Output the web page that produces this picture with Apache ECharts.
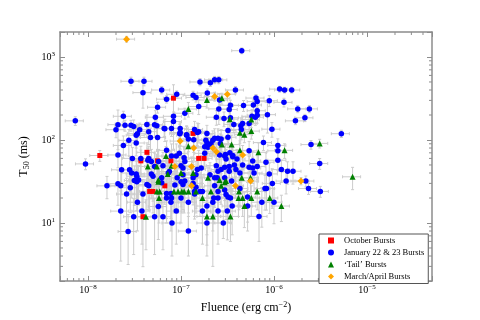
<!DOCTYPE html>
<html>
<head>
<meta charset="utf-8">
<script src="https://cdn.jsdelivr.net/npm/echarts@6/dist/echarts.min.js"></script>
<style>
    html, body { margin: 0; background: #fff; }
    #chart { width: 480px; height: 320px; }
</style>
</head>
<body>
<div id="chart"></div>
<script>
// each point: [fluence (erg cm^-2), T50 (ms), relative T50 error]
var octoberBursts = [
    [1.34e-8, 65, 0.15], [8.3e-8, 319, 0.45], [4.3e-8, 71, 0.3], [3.7e-8, 56, 0.35],
    [6.7e-8, 28, 0.4], [4.6e-8, 24, 0.4], [5.0e-8, 24, 0.45], [3.9e-8, 11.9, 0.75],
    [1.35e-7, 120, 0.2], [1.55e-7, 60, 0.25], [1.77e-7, 60, 0.25], [5.6e-8, 56, 0.3],
    [7.8e-8, 56, 0.3]
];

var januaryBursts = [
    [2.9e-8, 510, 0.12], [4e-8, 510, 0.12], [3.9e-8, 372, 0.35], [6.2e-8, 400, 0.1], [9e-8, 355, 0.1],
    [7e-8, 310, 0.1], [5.6e-8, 248, 0.15], [1.1e-7, 210, 0.15], [7.3e-9, 170, 0.12], [2.4e-8, 193, 0.15],
    [2.1e-8, 153, 0.5], [2.5e-8, 150, 0.15], [2.9e-8, 150, 0.15], [3.1e-8, 145, 0.2], [2e-8, 133, 0.2],
    [3.6e-8, 133, 0.2], [3.4e-8, 119, 0.2], [3.3e-8, 114, 0.3], [5.3e-8, 188, 0.2], [5.2e-8, 153, 0.3],
    [6.6e-8, 138, 0.2], [7.9e-8, 138, 0.2], [8.3e-8, 167, 0.3], [8.3e-8, 193, 0.6], [9.8e-8, 138, 0.2],
    [4.5e-8, 126, 0.3], [4.7e-8, 107, 0.3], [5.6e-8, 107, 0.3], [9.8e-8, 123, 0.3], [1.15e-7, 114, 0.3],
    [2.75e-8, 99, 0.35], [2.4e-8, 86, 0.3], [3.3e-8, 92, 0.3], [2.1e-8, 66, 0.3], [7e-8, 75, 0.3],
    [9.4e-9, 51.5, 0.15], [3e-8, 60, 0.35], [3.7e-8, 60, 0.4], [4.4e-8, 57, 0.4], [5.75e-8, 55, 0.4],
    [7.9e-8, 64, 0.4], [8.9e-8, 64, 0.4], [9.6e-8, 69, 0.35], [4.5e-8, 60, 0.4], [5.2e-8, 48, 0.45],
    [6.4e-8, 49, 0.45], [1e-7, 49, 0.4], [2.3e-8, 43.7, 0.5], [2.8e-8, 43.7, 0.45], [2.95e-8, 40, 0.5],
    [3.3e-8, 39, 0.5], [4.8e-8, 39, 0.5], [5e-8, 36.6, 0.5], [7.5e-8, 41.7, 0.45], [9.1e-8, 35, 0.5],
    [6.2e-8, 35, 0.5], [3.15e-8, 32.5, 0.5], [3.5e-8, 33, 0.5], [3.35e-8, 31.3, 0.55], [6.2e-8, 30.5, 0.5],
    [1e-7, 31.3, 0.5], [1.05e-7, 29, 0.5], [2.1e-8, 29.7, 0.45], [2.25e-8, 28, 0.5], [1.6e-8, 28, 0.3],
    [4.5e-8, 28, 0.5], [8.6e-8, 28.7, 0.5], [2.85e-8, 26.6, 0.5], [2.6e-8, 22.3, 0.55], [3.9e-8, 22.3, 0.5],
    [7e-8, 22.6, 0.5], [7.8e-8, 22.6, 0.5], [1e-7, 20, 0.5], [7.9e-8, 20, 0.5], [7e-8, 20, 0.5],
    [3.4e-8, 17.8, 0.55], [5.7e-8, 15.8, 0.6], [7.8e-8, 17.8, 0.55], [2.25e-8, 13.9, 0.75], [3.8e-8, 13.9, 0.6],
    [8.9e-8, 13.9, 0.6], [3.1e-8, 11.9, 0.65], [5.2e-8, 11.9, 0.65], [6.4e-8, 11.9, 0.6], [8e-8, 10, 0.6],
    [2.7e-8, 7.9, 0.6],
    [4.5e-7, 1190, 0.08], [1.6e-7, 500, 0.1], [2.07e-7, 490, 0.1], [2.3e-7, 530, 0.1], [2.55e-7, 530, 0.1],
    [3.85e-7, 400, 0.1], [1.92e-7, 368, 0.12], [1.35e-7, 345, 0.12], [1.45e-7, 325, 0.12], [1.55e-7, 253, 0.2],
    [3.4e-7, 262, 0.15], [3.3e-7, 233, 0.2], [2.55e-7, 237, 0.35], [2.4e-7, 188, 0.2], [2.9e-7, 181, 0.2],
    [3.7e-7, 154, 0.2], [4.7e-7, 260, 0.15], [6.4e-7, 320, 0.1], [6e-7, 264, 0.15], [6.6e-7, 225, 0.15],
    [5.8e-7, 193, 0.2], [6.3e-7, 188, 0.2], [6.6e-7, 199, 0.2], [5.4e-7, 158, 0.2], [4.6e-7, 158, 0.2],
    [4.45e-7, 134, 0.25], [8.9e-7, 297, 0.15], [8.5e-7, 202, 0.4], [9.5e-7, 135, 0.2], [7.7e-7, 93, 0.2],
    [1.1e-6, 86, 0.2], [1.15e-6, 410, 0.08], [1.3e-6, 400, 0.08], [1.55e-6, 400, 0.08], [1.28e-6, 284, 0.12],
    [1.8e-6, 237, 0.1], [1.7e-6, 170, 0.1], [2.15e-6, 185, 0.1], [1.1e-6, 74, 0.2], [3.4e-7, 185, 0.2],
    [1.15e-7, 116, 0.25], [1.4e-7, 134, 0.25], [1.55e-7, 126, 0.25], [1.37e-7, 101, 0.3], [1.9e-7, 120, 0.25],
    [1.9e-7, 92, 0.3], [2.3e-7, 105, 0.3], [2.5e-7, 105, 0.3], [3.2e-7, 108, 0.25], [2.65e-7, 91, 0.3],
    [2.2e-7, 99, 0.3], [1.8e-7, 83, 0.3], [1.8e-7, 69, 0.3], [3e-7, 67, 0.3], [3.35e-7, 70, 0.3],
    [2.6e-7, 66, 0.3], [3.6e-7, 65, 0.3], [5.4e-7, 74, 0.3],
    [2.4e-6, 237, 0.1], [5.3e-6, 119, 0.1], [2.5e-6, 88, 0.12], [3.1e-6, 52, 0.15], [2.2e-6, 32, 0.15],
    [2.35e-6, 26, 0.15], [3.15e-6, 24, 0.15],
    [1.08e-7, 61, 0.35], [2.95e-7, 64, 0.3], [3.05e-7, 59, 0.3], [3.6e-7, 63, 0.3], [4e-7, 59, 0.3],
    [3.75e-7, 50, 0.35], [5.9e-7, 56, 0.3], [1.1e-6, 57, 0.25], [5.4e-7, 47, 0.35], [5.9e-7, 46, 0.35],
    [8.2e-7, 54, 0.3], [8.9e-7, 39, 0.35], [1.2e-6, 44, 0.3], [1.4e-6, 42, 0.3], [1.6e-6, 42, 0.3],
    [1.35e-6, 32, 0.3], [9.6e-7, 30, 0.5], [4.3e-7, 26, 0.4], [8e-7, 26, 0.45], [8.3e-7, 26, 0.45],
    [7.4e-7, 17.8, 0.5], [1e-6, 17.8, 0.45], [6.9e-7, 12, 0.5], [5.2e-7, 16, 0.5], [3.4e-7, 20, 0.5],
    [3.55e-7, 16, 0.55], [3.15e-7, 13.9, 0.55], [2.85e-7, 10, 0.35], [2.25e-7, 20, 0.5], [2.5e-7, 20, 0.5],
    [2.2e-7, 17.8, 0.55], [2.5e-7, 13.9, 0.6], [1.9e-7, 10, 0.6], [1.7e-7, 13.9, 0.6], [1.9e-7, 16, 0.55],
    [1.2e-7, 8, 0.5], [1.2e-7, 17.8, 0.55], [1.6e-7, 24, 0.5], [1.7e-7, 24, 0.5], [1.4e-7, 22.3, 0.5],
    [2.3e-7, 28, 0.45], [2.95e-7, 25, 0.45], [3.05e-7, 22, 0.5], [2.3e-7, 35, 0.45], [2.95e-7, 35, 0.4],
    [3.5e-7, 32, 0.4], [4.3e-7, 40, 0.4], [3.9e-7, 44, 0.35], [3.3e-7, 48, 0.35], [2.95e-7, 47, 0.35],
    [2.7e-7, 44, 0.4], [2.4e-7, 49, 0.4], [2.5e-7, 42, 0.4], [2.05e-7, 38, 0.4], [1.65e-7, 46, 0.4],
    [1.45e-7, 38, 0.45], [1.05e-7, 46, 0.4], [1.1e-7, 32, 0.45], [1.35e-7, 30, 0.45], [1.45e-7, 27, 0.45],
    [2.6e-7, 303, 0.2], [4.3e-8, 154, 0.3], [5.5e-8, 148, 0.3], [6.7e-8, 137, 0.3], [9.7e-8, 119, 0.3],
    [1.5e-7, 123, 0.3], [2.1e-7, 90, 0.3], [1.2e-7, 103, 0.3], [1.85e-7, 99, 0.3], [2.7e-7, 103, 0.3],
    [3.2e-7, 130, 0.25], [4.4e-7, 148, 0.25], [6.6e-7, 290, 0.15], [1.95e-7, 82, 0.3], [4.8e-8, 55, 0.4],
    [1.1e-7, 55, 0.4], [3.35e-8, 36.6, 0.5], [7.3e-8, 40, 0.45], [1.05e-7, 38, 0.45], [1.35e-7, 35, 0.45],
    [1.5e-7, 44, 0.4], [4.3e-8, 29, 0.5], [1.4e-7, 24, 0.5], [2.5e-7, 24, 0.5], [3.2e-7, 20.5, 0.5],
    [5.2e-7, 20.5, 0.5], [2.45e-7, 35, 0.4], [3.3e-7, 42, 0.4], [4.6e-7, 50, 0.35], [6.6e-7, 48, 0.35],
    [6.1e-7, 40, 0.4]
];

var tailBursts = [
    [1.9e-7, 303, 0.2], [2.75e-7, 318, 0.15], [1.2e-7, 236, 0.2], [3.35e-7, 178, 0.25], [5.7e-7, 176, 0.2],
    [4.3e-7, 122, 0.25], [4.8e-7, 116, 0.2], [5.7e-7, 128, 0.2], [6.8e-7, 71, 0.3], [1.3e-6, 75, 0.2],
    [3.1e-6, 91, 0.12], [7e-6, 36, 0.3], [2.75e-7, 88, 0.3], [1.2e-7, 84, 0.3], [3.5e-7, 88, 0.3],
    [4.3e-7, 75, 0.3], [6.9e-8, 64, 0.3], [4.4e-8, 48, 0.4], [5.5e-8, 48, 0.4], [7.9e-8, 49, 0.35],
    [7.2e-8, 39, 0.4], [1e-7, 40, 0.35], [5.7e-8, 31.3, 0.45], [5.5e-8, 24, 0.5], [5.9e-8, 24, 0.5],
    [8.4e-8, 24, 0.45], [9.3e-8, 24, 0.45], [1.02e-7, 24, 0.45], [5.8e-8, 20, 0.5], [4.2e-8, 11.9, 0.6],
    [4.2e-7, 24, 0.4], [6.6e-7, 24, 0.4], [9e-7, 20, 0.35], [1.2e-6, 16, 0.35], [5.7e-7, 20, 0.4],
    [4.8e-7, 16, 0.45], [4.15e-7, 20, 0.4], [4.6e-7, 20, 0.4], [3.4e-7, 12, 0.5], [2.2e-7, 12, 0.75],
    [1.9e-7, 12, 0.55], [1.7e-7, 20, 0.5], [1.2e-7, 24, 0.45], [1.45e-7, 24, 0.45], [2.7e-7, 28, 0.4],
    [1.95e-7, 35, 0.4], [2.6e-7, 33, 0.4], [2.95e-7, 31, 0.4], [4.5e-7, 35, 0.35], [1.35e-7, 40, 0.35],
    [5.7e-8, 33, 0.4], [1.08e-7, 24, 0.45], [2.1e-7, 24, 0.45], [5.6e-7, 35, 0.35], [3.05e-7, 32, 0.4]
];

var marchAprilBursts = [
    [2.6e-8, 1640, 0.08], [9.8e-8, 97, 0.2], [3.15e-7, 356, 0.12], [2.3e-7, 335, 0.12],
    [1.37e-7, 80, 0.3], [2.4e-7, 72, 0.3], [4.6e-7, 66, 0.3], [8.6e-8, 48, 0.3],
    [5.6e-7, 32, 0.3], [1.95e-6, 32, 0.1], [3.85e-7, 28, 0.3], [1.3e-7, 48, 0.3],
    [1.3e-7, 28, 0.35], [2.2e-7, 80, 0.2]
];

var seriesNames = ['October Bursts', 'January 22 & 23 Bursts', '\u2018Tail\u2019 Bursts', 'March/April Bursts'];
var seriesColors = ['#ff0000', '#0000ff', '#008000', '#ffa500'];
var seriesSymbols = ['rect', 'circle', 'triangle', 'diamond'];
var seriesSizes = [5, 5.5, 6, 7];
var seriesData = [octoberBursts, januaryBursts, tailBursts, marchAprilBursts];

var xTickValues = [1e-8, 1e-7, 1e-6, 1e-5];
var xTickExps = ['\u22128', '\u22127', '\u22126', '\u22125'];
var yTickValues = [10, 100, 1000];
var yTickExps = ['1', '2', '3'];

var X_MIN = 5e-9, X_MAX = 5e-5, Y_MIN = 2, Y_MAX = 2000;
var X_ERR = 0.22;   // relative fluence error
var FRAME = '#8c8c8c', ERR = '#cccccc';
var SERIF = '"Liberation Serif", "DejaVu Serif", serif';

// minor ticks at 2..9 x 10^k
var xMinor = [], yMinor = [];
for (var k = -9; k <= -5; k++) {
    for (var m = 2; m <= 9; m++) {
        var v = m * Math.pow(10, k);
        if (v > X_MIN && v < X_MAX) xMinor.push([v, Y_MIN]);
    }
}
for (var k2 = 0; k2 <= 3; k2++) {
    for (var m2 = 2; m2 <= 9; m2++) {
        var w = m2 * Math.pow(10, k2);
        if (w > Y_MIN && w < Y_MAX) yMinor.push([X_MIN, w]);
    }
}

// "10" with a raised exponent, as rich text
var powRich = {
    b: { fontFamily: SERIF, fontSize: 10, color: '#000', lineHeight: 13 },
    s: { fontFamily: SERIF, fontSize: 7, color: '#000', verticalAlign: 'top', lineHeight: 8 }
};

function labelFor(values, exps) {
    return function (v) {
        for (var i = 0; i < values.length; i++) {
            if (Math.abs(Math.log10(v) - Math.log10(values[i])) < 1e-6) return '{b|10}{s|' + exps[i] + '}';
        }
        return '';
    };
}

function ln(x1, y1, x2, y2, color) {
    return { type: 'line', shape: { x1: x1, y1: y1, x2: x2, y2: y2 }, style: { stroke: color, lineWidth: 1 } };
}

function renderErr(params, api) {
    var x = api.value(0), y = api.value(1), ey = api.value(2);
    var l = api.coord([x * (1 - X_ERR), y]), r = api.coord([x * (1 + X_ERR), y]);
    var b = api.coord([x, y * (1 - ey)]), t = api.coord([x, y * (1 + ey)]);
    var c = 1.5;
    return {
        type: 'group',
        children: [
            ln(l[0], l[1], r[0], r[1], ERR),
            ln(b[0], b[1], t[0], t[1], ERR),
            ln(l[0], l[1] - c, l[0], l[1] + c, ERR),
            ln(r[0], r[1] - c, r[0], r[1] + c, ERR),
            ln(b[0] - c, b[1], b[0] + c, b[1], ERR),
            ln(t[0] - c, t[1], t[0] + c, t[1], ERR)
        ]
    };
}

function renderXMinor(params, api) {
    var cs = params.coordSys;
    var p = api.coord([api.value(0), Y_MIN]);
    return {
        type: 'group',
        children: [
            ln(p[0], cs.y + cs.height, p[0], cs.y + cs.height - 3, FRAME),
            ln(p[0], cs.y, p[0], cs.y + 3, FRAME)
        ]
    };
}

function renderYMinor(params, api) {
    var cs = params.coordSys;
    var p = api.coord([X_MIN, api.value(1)]);
    return {
        type: 'group',
        children: [
            ln(cs.x, p[1], cs.x + 3, p[1], FRAME),
            ln(cs.x + cs.width, p[1], cs.x + cs.width - 3, p[1], FRAME)
        ]
    };
}

function logAxis(pos, min, max, extra) {
    var a = {
        type: 'log', logBase: 10, min: min, max: max, position: pos,
        axisLine: { show: true, onZero: false, lineStyle: { color: FRAME, width: 1.5 } },
        axisTick: { show: true, inside: true, length: 5, lineStyle: { color: FRAME, width: 1 } },
        axisLabel: { show: false },
        splitLine: { show: false }
    };
    for (var key in extra) a[key] = extra[key];
    return a;
}

var series = [
    { type: 'custom', name: 'xMinor', data: xMinor, renderItem: renderXMinor, silent: true, z: 5, encode: { x: 0, y: 1 } },
    { type: 'custom', name: 'yMinor', data: yMinor, renderItem: renderYMinor, silent: true, z: 5, encode: { x: 0, y: 1 } }
];
seriesData.forEach(function (d, i) {
    series.push({
        type: 'custom', name: 'err' + i, data: d, renderItem: renderErr, clip: true, silent: true,
        encode: { x: 0, y: 1 }, z: 2
    });
    series.push({
        type: 'scatter', name: seriesNames[i], data: d, symbol: seriesSymbols[i], symbolSize: seriesSizes[i],
        itemStyle: { color: seriesColors[i], opacity: 1 }, encode: { x: 0, y: 1 }, z: 2, clip: true
    });
});

var chart = echarts.init(document.getElementById('chart'));
chart.setOption({
    animation: false,
    backgroundColor: '#fff',
    grid: { left: 60, top: 32, width: 372, height: 255 },
    xAxis: [
        logAxis('bottom', X_MIN, X_MAX, {
            name: 'Fluence (erg cm{s|\u22122})', nameLocation: 'middle', nameGap: 20,
            nameTextStyle: { fontFamily: SERIF, fontSize: 12, color: '#000', lineHeight: 14,
                rich: { s: { fontFamily: SERIF, fontSize: 8, color: '#000', verticalAlign: 'top', lineHeight: 9 } } },
            axisLabel: { show: true, formatter: labelFor(xTickValues, xTickExps), margin: 3, rich: powRich }
        }),
        logAxis('top', X_MIN, X_MAX, {})
    ],
    yAxis: [
        logAxis('left', Y_MIN, Y_MAX, {
            name: 'T{s|50} (ms)', nameLocation: 'middle', nameGap: 24,
            nameTextStyle: { fontFamily: SERIF, fontSize: 12, color: '#000', lineHeight: 14,
                rich: { s: { fontFamily: SERIF, fontSize: 8, color: '#000', verticalAlign: 'bottom', lineHeight: 9 } } },
            axisLabel: { show: true, formatter: labelFor(yTickValues, yTickExps), margin: 5, rich: powRich }
        }),
        logAxis('right', Y_MIN, Y_MAX, {})
    ],
    legend: {
        orient: 'vertical', left: 319, top: 234,
        data: seriesNames.map(function (n, i) { return { name: n, icon: seriesSymbols[i] }; }),
        itemWidth: 6, itemHeight: 6, itemGap: 2,
        padding: [1.5, 4, 2, 9],
        borderColor: '#555', borderWidth: 1, backgroundColor: '#fff',
        selectedMode: false, z: 10,
        textStyle: { fontFamily: SERIF, fontSize: 8.5, color: '#000', lineHeight: 10, padding: [0, 0, 0, 5] }
    },
    series: series
});
</script>
</body>
</html>
